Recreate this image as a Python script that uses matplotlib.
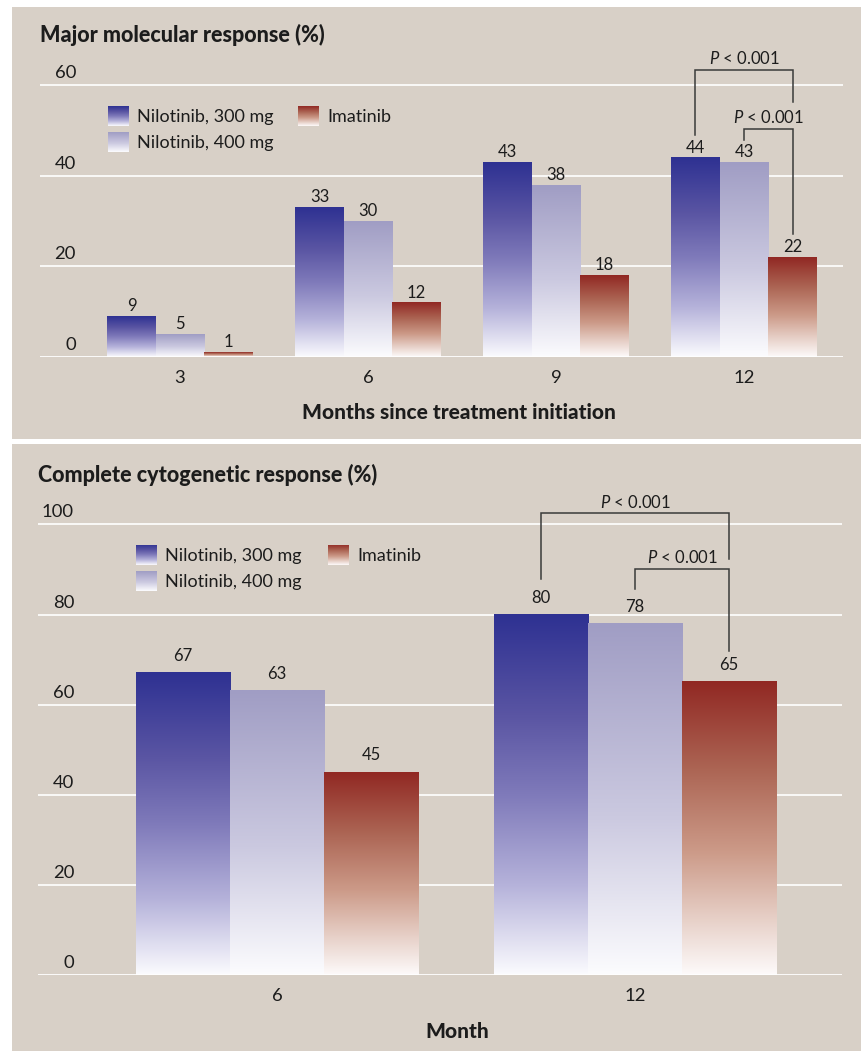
import numpy as np
import matplotlib
matplotlib.use("Agg")
import matplotlib.pyplot as plt
from matplotlib.colors import LinearSegmentedColormap
from matplotlib.patches import Rectangle
from matplotlib.transforms import offset_copy

# ---------------- data ----------------
series_names = ["Nilotinib, 300 mg", "Nilotinib, 400 mg", "Imatinib"]

mmr_title = "Major molecular response (%)"
mmr_xlabel = "Months since treatment initiation"
mmr_months = ["3", "6", "9", "12"]
mmr_nilotinib_300 = [9, 33, 43, 44]
mmr_nilotinib_400 = [5, 30, 38, 43]
mmr_imatinib = [1, 12, 18, 22]
mmr_yticks = [0, 20, 40, 60]

ccyr_title = "Complete cytogenetic response (%)"
ccyr_xlabel = "Month"
ccyr_months = ["6", "12"]
ccyr_nilotinib_300 = [67, 80]
ccyr_nilotinib_400 = [63, 78]
ccyr_imatinib = [45, 65]
ccyr_yticks = [0, 20, 40, 60, 80, 100]

# pairwise comparisons (series index a, series index b) at the last time point
comparisons = [(0, 2), (1, 2)]
p_text = r"$P$ < 0.001"

# ---------------- style ----------------
plt.rcParams["font.family"] = ["Lato", "DejaVu Sans"]
plt.rcParams["mathtext.fontset"] = "custom"
plt.rcParams["mathtext.rm"] = "Lato"
plt.rcParams["mathtext.it"] = "Lato:italic"
plt.rcParams["mathtext.bf"] = "Lato:bold"

BEIGE = "#d8d0c7"
INK = "#1c1c1c"
LINE = "#3a3a3a"
HEAVY = 900

cmaps = [
    LinearSegmentedColormap.from_list(
        "nil300", [(0.0, "#fbfbfe"), (0.25, "#b5b2da"), (0.5, "#7f7aba"),
                   (0.72, "#5a55a3"), (1.0, "#2e3192")]),
    LinearSegmentedColormap.from_list(
        "nil400", [(0.0, "#fcfcfe"), (0.45, "#cbc9e0"), (1.0, "#a09dc4")]),
    LinearSegmentedColormap.from_list(
        "ima", [(0.0, "#fdfafa"), (0.18, "#e8d2ca"), (0.42, "#cc9a88"),
                (0.7, "#ac6554"), (1.0, "#912823")]),
]
GRAD = np.linspace(0, 1, 256).reshape(-1, 1)

W, H = 861, 1051
fig = plt.figure(figsize=(W / 100, H / 100), dpi=100)
fig.patch.set_facecolor("white")


def frac_rect(x0, y0, x1, y1):
    return [x0 / W, 1 - y1 / H, (x1 - x0) / W, (y1 - y0) / H]


def fig_text(x, y, s, **kw):
    fig.text(x / W, 1 - y / H, s, color=INK, va="baseline", **kw)


# panel backgrounds
for y0, y1 in [(7, 438.7), (444, 1051)]:
    fig.patches.append(Rectangle((12 / W, 1 - y1 / H), (W - 12) / W, (y1 - y0) / H,
                                 transform=fig.transFigure, facecolor=BEIGE,
                                 edgecolor="none", zorder=-10))


def legend(x_sw, x_sw2, y_rows):
    sw = 21
    spots = [(x_sw, y_rows[0]), (x_sw, y_rows[1]), (x_sw2, y_rows[0])]
    for (x, y), name, cm in zip(spots, series_names, cmaps):
        lax = fig.add_axes(frac_rect(x, y, x + sw, y + sw - 1))
        lax.imshow(GRAD, cmap=cm, origin="lower", aspect="auto",
                   interpolation="bilinear")
        lax.set_axis_off()
        fig_text(x + 29, y + 15.7, name, fontsize=13)


def panel(rect, xlim, ylim, months, series, yticks, width, value_gap, brackets):
    ax = fig.add_axes(rect)
    ax.set_facecolor("none")
    for s in ax.spines.values():
        s.set_visible(False)
    x = np.arange(len(months))
    for k, (vals, cm) in enumerate(zip(series, cmaps)):
        bars = ax.bar(x + (k - 1) * width, vals, width=width,
                      color="none", edgecolor="none")
        for p, v in zip(bars.patches, vals):
            ax.imshow(GRAD, cmap=cm, origin="lower", aspect="auto",
                      interpolation="bilinear", zorder=2,
                      extent=(p.get_x(), p.get_x() + p.get_width(), 0, p.get_height()))
            ax.annotate(str(v), xy=(p.get_x() + p.get_width() / 2, v),
                        xytext=(0, value_gap), textcoords="offset points",
                        ha="center", va="baseline", fontsize=12, color=INK,
                        zorder=4)
    ax.set_xlim(*xlim)
    ax.set_ylim(*ylim)
    ax.set_aspect("auto")

    # horizontal gridlines and in-plot y labels
    for t in yticks:
        ax.axhline(t, color="white", lw=2.0 if t == 0 else 1.2,
                   zorder=3 if t == 0 else 1)
    lab_tr = offset_copy(ax.get_yaxis_transform(), fig=fig, y=7, units="dots")
    for t in yticks:
        ax.text(0.0448, t, str(t), transform=lab_tr, ha="right", va="baseline",
                fontsize=13.3, color=INK)
    ax.set_yticks([])

    ax.set_xticks(x, months)
    ax.tick_params(axis="x", length=0, pad=9.5, labelsize=13.3, labelcolor=INK)

    # significance brackets at the last time point
    g = x[-1]
    for (a, b), (y_left, y_top, y_right) in zip(comparisons, brackets):
        xa = g + (a - 1) * width
        xb = g + (b - 1) * width
        ax.plot([xa, xa, xb, xb], [y_left, y_top, y_top, y_right], color=LINE,
                lw=1.1, clip_on=False, zorder=4, solid_joinstyle="miter")
        ax.annotate(p_text, xy=((xa + xb) / 2, y_top), xytext=(0, 4.3),
                    textcoords="offset points", ha="center", va="baseline",
                    fontsize=12, color=INK)
    return ax


# ---------------- top panel ----------------
fig_text(40, 42.3, mmr_title, fontsize=15.5, fontweight=HEAVY)
top_scale = 4.525
panel(frac_rect(40, 356.8 - 70 * top_scale, 843, 356.8),
      (-0.7447, 3.5266), (0, 70), mmr_months,
      [mmr_nilotinib_300, mmr_nilotinib_400, mmr_imatinib],
      mmr_yticks, 0.258, 3.6,
      [(49.0, 63.4, 56.2), (47.9, 50.4, 27.1)])
legend(108, 298, (106, 132))
fig_text(459, 419, mmr_xlabel, fontsize=15, fontweight=HEAVY, ha="center")

# ---------------- bottom panel ----------------
fig_text(38, 482.3, ccyr_title, fontsize=15.5, fontweight=HEAVY)
bot_scale = 4.51
panel(frac_rect(38, 975.3 - 110 * bot_scale, 842, 975.3),
      (-0.6676, 1.5782), (0, 110), ccyr_months,
      [ccyr_nilotinib_300, ccyr_nilotinib_400, ccyr_imatinib],
      ccyr_yticks, 0.2626, 8.6,
      [(87.9, 102.4, 92.2), (85.7, 90.0, 71.9)])
legend(136, 328, (545, 571))
fig_text(457, 1038, ccyr_xlabel, fontsize=15, fontweight=HEAVY, ha="center")

fig.savefig("out.png", dpi=100, facecolor="white")
